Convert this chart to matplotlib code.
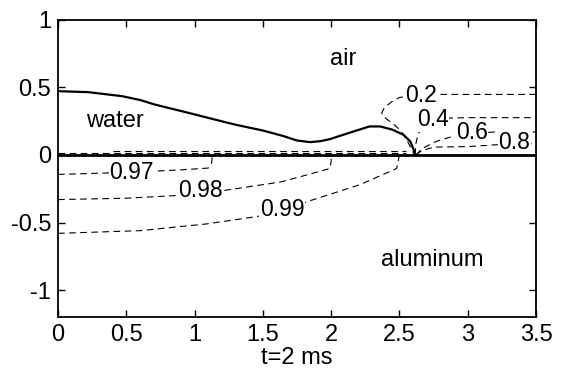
import numpy as np
import matplotlib
matplotlib.use("Agg")
import matplotlib.pyplot as plt

plt.rcParams['font.family'] = ['Liberation Sans', 'DejaVu Sans']
plt.rcParams['axes.unicode_minus'] = False

# free surface of the water drop (solid line)
surf_x = [0.0, 0.22, 0.47, 0.60, 0.71, 0.95, 1.20, 1.30, 1.50, 1.65, 1.75, 1.845, 1.92,
          1.99, 2.14, 2.28, 2.36, 2.45, 2.53, 2.58, 2.61, 2.615]
surf_y = [0.472, 0.465, 0.435, 0.407, 0.373, 0.313, 0.249, 0.224, 0.181, 0.14, 0.107,
          0.095, 0.102, 0.117, 0.166, 0.211, 0.211, 0.187, 0.149, 0.10, 0.025, 0.0]

# contour lines in the air region
c02_x = [3.5, 2.80, 2.64, 2.50, 2.445, 2.39, 2.37, 2.40, 2.45, 2.51, 2.55, 2.585, 2.61]
c02_y = [0.448, 0.448, 0.448, 0.425, 0.395, 0.35, 0.31, 0.27, 0.235, 0.18, 0.12, 0.05, 0.0]
c04_x = [2.615, 2.62, 2.635, 2.67, 2.74, 2.85, 3.0, 3.5]
c04_y = [0.0, 0.08, 0.15, 0.21, 0.255, 0.273, 0.276, 0.276]
c06_x = [2.62, 2.67, 2.77, 2.88, 3.03, 3.2, 3.5]
c06_y = [0.0, 0.05, 0.10, 0.135, 0.16, 0.17, 0.17]
c08_x = [2.62, 2.66, 2.75, 3.0, 3.2, 3.5]
c08_y = [0.0, 0.03, 0.058, 0.062, 0.075, 0.085]

# contour lines in the water region
c097_x = [0.0, 0.3, 0.6, 0.9, 1.1, 1.125, 1.13]
c097_y = [-0.144, -0.135, -0.125, -0.11, -0.097, -0.06, 0.0]
c098_x = [0.0, 0.5, 0.87, 1.2, 1.63, 1.85, 1.99, 2.0, 2.0]
c098_y = [-0.33, -0.32, -0.30, -0.265, -0.20, -0.14, -0.10, -0.05, 0.0]
c099_x = [0.0, 0.6, 1.09, 1.46, 1.64, 1.81, 2.21, 2.48, 2.49, 2.5]
c099_y = [-0.58, -0.56, -0.51, -0.455, -0.41, -0.35, -0.22, -0.10, -0.05, 0.0]

# dashed contours hugging the free surface just above zero
near_x1 = [0.0, 2.55]
near_y1 = [0.015, 0.015]
near_x2 = [0.4, 2.55]
near_y2 = [0.03, 0.03]

labels = ['0.2', '0.4', '0.6', '0.8', '0.97', '0.98', '0.99']
label_x = [2.66, 2.745, 3.03, 3.34, 0.54, 1.04, 1.64]
label_y = [0.44, 0.26, 0.165, 0.09, -0.13, -0.265, -0.40]

fig = plt.figure(figsize=(5.63, 3.74), dpi=100)
ax = fig.add_axes([0.103, 0.152, 0.849, 0.795])

dash = dict(color='black', lw=0.8, dashes=(6, 4))
for cx, cy in [(c02_x, c02_y), (c04_x, c04_y), (c06_x, c06_y), (c08_x, c08_y),
               (c097_x, c097_y), (c098_x, c098_y), (c099_x, c099_y),
               (near_x1, near_y1), (near_x2, near_y2)]:
    ax.plot(cx, cy, zorder=2, **dash)

for lab, lx, ly in zip(labels, label_x, label_y):
    ax.text(lx, ly, lab, fontsize=16.5, ha='center', va='center', zorder=3,
            bbox=dict(facecolor='white', edgecolor='none', pad=0.3))

ax.plot(surf_x, surf_y, color='black', lw=1.6, solid_joinstyle='round', zorder=4)
ax.axhline(0, color='black', lw=2, zorder=5)

ax.text(2.09, 0.71, 'air', fontsize=17, ha='center', va='center')
ax.text(0.42, 0.25, 'water', fontsize=17, ha='center', va='center')
ax.text(2.74, -0.78, 'aluminum', fontsize=17, ha='center', va='center')

ax.set_xlim(0, 3.5)
ax.set_ylim(-1.2, 1)
ax.set_xticks(np.arange(0, 3.51, 0.5))
ax.set_xticklabels(['0', '0.5', '1', '1.5', '2', '2.5', '3', '3.5'])
ax.set_yticks([-1, -0.5, 0, 0.5, 1])
ax.set_yticklabels(['-1', '-0.5', '0', '0.5', '1'])
ax.tick_params(direction='in', top=True, right=True, length=5, width=1,
               labelsize=17, pad=5)
for s in ax.spines.values():
    s.set_linewidth(1.3)
    s.set_zorder(6)
ax.set_xlabel('t=2 ms', fontsize=17, labelpad=1)

fig.savefig('out.png', dpi=100)
